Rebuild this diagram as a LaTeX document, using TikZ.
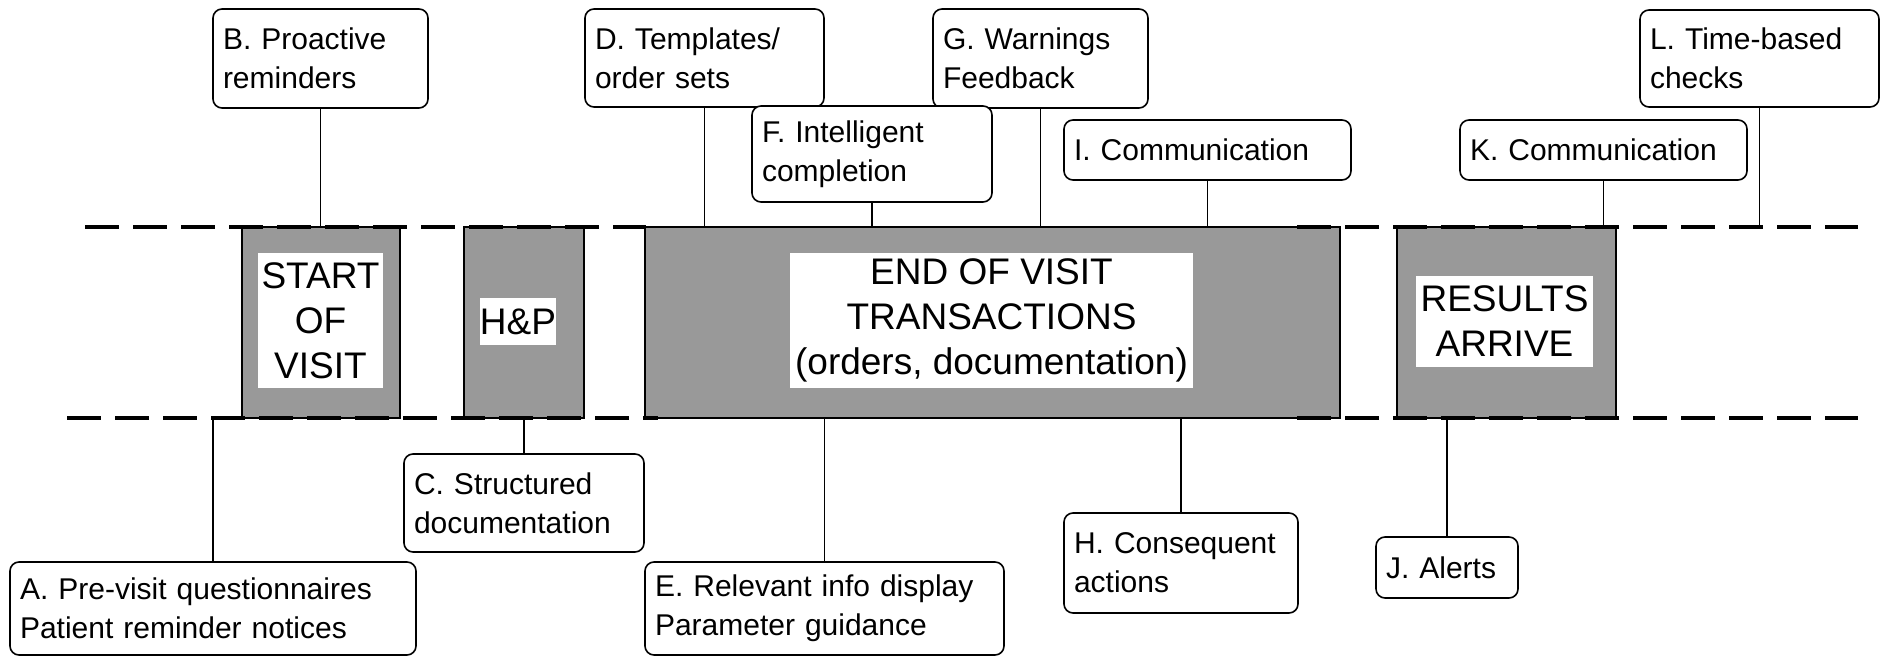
\documentclass[tikz,border=0pt]{standalone}
\usepackage{fontspec}
\setmainfont{Liberation Sans}
\definecolor{panel}{RGB}{153,153,153}
\begin{document}
\begin{tikzpicture}[x=0.5pt,y=-0.5pt,
  phase/.style={draw=black, line width=0.8pt, fill=panel, inner sep=0pt, minimum height=95.5pt},
  tag/.style={fill=white, inner sep=0pt, align=center, font=\fontsize{18.5pt}{22.5pt}\selectfont},
  note/.style={draw=black, line width=0.8pt, fill=white, rounded corners=4.5pt,
    inner xsep=5pt, inner ysep=0pt, align=left, font=\fontsize{15pt}{19.5pt}\selectfont},
  link/.style={line width=0.8pt},
  timeline/.style={line width=1.6pt, dash pattern=on 16.75pt off 7.25pt}]
\useasboundingbox (0,0) rectangle (1885,657);

% phases of the visit
\node[phase, minimum width=79pt]    (start)   at (321,322.5) {};
\node[phase, minimum width=60pt]    (hp)      at (524,322.5) {};
\node[phase, minimum width=347.5pt] (eov)     at (992.5,322.5) {};
\node[phase, minimum width=109.5pt] (results) at (1506.5,322.5) {};

\node[tag, minimum width=62.5pt, minimum height=67.5pt]  (startlbl) at (320.5,320.5) {START\\OF\\VISIT};
\node[tag, minimum width=35pt, minimum height=23.5pt]    (hplbl)    at (518,321.5) {H\&P};
\node[tag, minimum width=201.5pt, minimum height=67.5pt] (eovlbl)   at (991.5,320.5) {END OF VISIT\\TRANSACTIONS\\(orders, documentation)};
\node[tag, minimum width=88.5pt, minimum height=45.5pt]  (reslbl)   at (1504.5,321.5) {RESULTS\\ARRIVE};

% time lines (broken across the end-of-visit block)
\coordinate (tl1) at (85,227);   \coordinate (tl2) at (646,227);
\coordinate (bl1) at (67,418);   \coordinate (bl2) at (658,418);
\coordinate (tr1) at (1297,227); \coordinate (tr2) at (1858,227);
\coordinate (br1) at (1297,418); \coordinate (br2) at (1858,418);
\draw[timeline] (tl1) -- (tl2);
\draw[timeline] (bl1) -- (bl2);
\draw[timeline] (tr1) -- (tr2);
\draw[timeline] (br1) -- (br2);

% decision-support callouts above the line
\node[note, minimum width=107.5pt, minimum height=49.5pt, text width=97.5pt]  (b) at (320.5,58.5) {B. Proactive\\reminders};
\node[note, minimum width=119.5pt, minimum height=49pt, text width=109.5pt]   (d) at (704.5,58) {D. Templates/\\order sets};
\node[note, minimum width=107.5pt, minimum height=49.5pt, text width=97.5pt]  (g) at (1040.5,58.5) {G. Warnings\\Feedback};
\node[note, minimum width=119.5pt, minimum height=48.5pt, text width=109.5pt] (l) at (1759.5,58.5) {L. Time-based\\checks};
\node[note, minimum width=120pt, minimum height=48pt, text width=110pt]       (f) at (872,154) {F. Intelligent\\completion};
\node[note, minimum width=143.5pt, minimum height=30pt, text width=133.5pt]   (i) at (1207.5,150) {I. Communication};
\node[note, minimum width=143.5pt, minimum height=30pt, text width=133.5pt]   (k) at (1603.5,150) {K. Communication};

% callouts below the line
\node[note, minimum width=203pt, minimum height=46.5pt, text width=193pt]     (a) at (213,608.5) {A. Pre-visit questionnaires\\Patient reminder notices};
\node[note, minimum width=120pt, minimum height=49pt, text width=110pt]       (c) at (524,503) {C. Structured\\documentation};
\node[note, minimum width=179.5pt, minimum height=46.5pt, text width=169.5pt] (e) at (824.5,608.5) {E. Relevant info display\\Parameter guidance};
\node[note, minimum width=117pt, minimum height=50pt, text width=107pt]       (h) at (1181,563) {H. Consequent\\actions};
\node[note, minimum width=71pt, minimum height=30.5pt, text width=61pt]       (j) at (1447,567.5) {J. Alerts};

% connectors
\draw[link] (b.south) -- (b.south |- start.north);
\draw[link] (d.south) -- (d.south |- eov.north);
\draw[link] (f.south) -- (f.south |- eov.north);
\draw[link] (g.south) -- (g.south |- eov.north);
\draw[link] (i.south) -- (i.south |- eov.north);
\draw[link] (k.south) -- (k.south |- results.north);
\draw[link] (l.south) -- (l.south |- tr2);
\draw[link] (a.north) -- (a.north |- bl1);
\draw[link] (c.north) -- (c.north |- hp.south);
\draw[link] (e.north) -- (e.north |- eov.south);
\draw[link] (h.north) -- (h.north |- eov.south);
\draw[link] (j.north) -- (j.north |- results.south);
\end{tikzpicture}
\end{document}
